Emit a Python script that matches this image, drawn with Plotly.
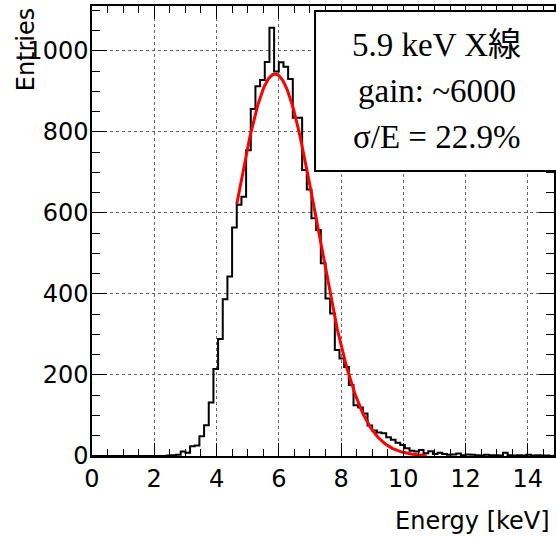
import numpy as np
import plotly.graph_objects as go

# ---- data ----
bin_width = 0.15
n_bins = 100
counts = [0, 0, 0, 0, 0, 0, 0, 0, 0, 0,
          0, 0, 0, 0, 0, 0, 1, 2, 3, 11,
          8, 24, 26, 49, 76, 132, 215, 289, 387, 443,
          564, 620, 640, 755, 857, 913, 928, 973, 1057, 949,
          972, 961, 931, 835, 835, 706, 658, 587, 558, 476,
          389, 352, 262, 241, 220, 175, 125, 120, 105, 75,
          63, 58, 56, 46, 40, 33, 27, 19, 13, 11,
          15, 7, 12, 5, 8, 5, 3, 4, 6, 2,
          4, 3, 2, 1, 3, 2, 2, 1, 8, 2,
          1, 2, 1, 3, 1, 2, 1, 1, 0, 1]

# Gaussian fit parameters
fit_amp = 943.0
fit_mean = 5.88
fit_sigma = 1.347
fit_range = (4.65, 10.75)

x_ticks = [0, 2, 4, 6, 8, 10, 12, 14]
y_ticks = [0, 200, 400, 600, 800, 1000]

box_lines = ["5.9 keV X線", "gain: ~6000", "σ/E = 22.9%"]
x_title = "Energy [keV]"
y_title = "Entries"

# ---- build ----
edges = np.arange(n_bins + 1) * bin_width
step_x = list(edges)
step_y = list(counts) + [counts[-1]]

fx = np.linspace(fit_range[0], fit_range[1], 300)
fy = fit_amp * np.exp(-0.5 * ((fx - fit_mean) / fit_sigma) ** 2)

fig = go.Figure()
fig.add_trace(go.Scatter(x=step_x, y=step_y, mode="lines", line_shape="hv",
                         line=dict(color="black", width=2), showlegend=False,
                         hoverinfo="skip"))
fig.add_trace(go.Scatter(x=fx, y=fy, mode="lines",
                         line=dict(color="#ff0000", width=3), showlegend=False,
                         hoverinfo="skip"))

W, H = 556, 537
ml, mr, mt, mb = 92, 0, 6, 81
axfont = dict(family="DejaVu Sans", size=24, color="black")

fig.update_layout(
    width=W, height=H,
    margin=dict(l=ml, r=mr, t=mt, b=mb, pad=0),
    paper_bgcolor="white", plot_bgcolor="white",
    xaxis=dict(range=[0, 14.84], tickvals=x_ticks, ticks="inside", ticklen=13,
               tickwidth=1, tickcolor="black", showline=True, linecolor="black",
               linewidth=1.5, mirror="ticks", showgrid=True, gridcolor="#666",
               griddash="dot", gridwidth=1, zeroline=False, tickfont=axfont,
               minor=dict(dtick=0.5, ticks="inside", ticklen=7, tickcolor="black",
                          showgrid=False)),
    yaxis=dict(range=[0, 1111], tickvals=y_ticks, ticks="inside", ticklen=15,
               tickwidth=1, tickcolor="black", showline=True, linecolor="black",
               linewidth=1.5, mirror="ticks", showgrid=True, gridcolor="#666",
               griddash="dot", gridwidth=1, zeroline=False, tickfont=axfont,
               ticklabelstandoff=-3,
               minor=dict(dtick=50, ticks="inside", ticklen=8, tickcolor="black",
                          showgrid=False)),
)

pw = W - ml - mr
ph = H - mt - mb

# text box
fig.add_shape(type="rect", xref="paper", yref="paper",
              x0=(316 - ml) / pw, x1=(570 - ml) / pw,
              y0=1 - (171 - mt) / ph, y1=1 - (11 - mt) / ph,
              line=dict(color="black", width=2), fillcolor="white", layer="above")

for txt, yc in zip(box_lines, [45, 91, 137]):
    fig.add_annotation(text=txt, xref="paper", yref="paper",
                       x=(438 - ml) / pw, y=1 - (yc - mt) / ph,
                       xanchor="center", yanchor="middle", showarrow=False,
                       font=dict(family="Liberation Serif, Noto Sans CJK JP", size=33,
                                 color="black"))

fig.add_annotation(text=y_title, xref="paper", yref="paper", textangle=-90,
                   x=(26 - ml) / pw, y=1 - (5 - mt) / ph, xanchor="center",
                   yanchor="top", showarrow=False, font=axfont)
fig.add_annotation(text=x_title, xref="paper", yref="paper",
                   x=(554 - ml) / pw, y=1 - (521 - mt) / ph, xanchor="right",
                   yanchor="middle", showarrow=False, font=axfont)

fig.write_html("out.html")
